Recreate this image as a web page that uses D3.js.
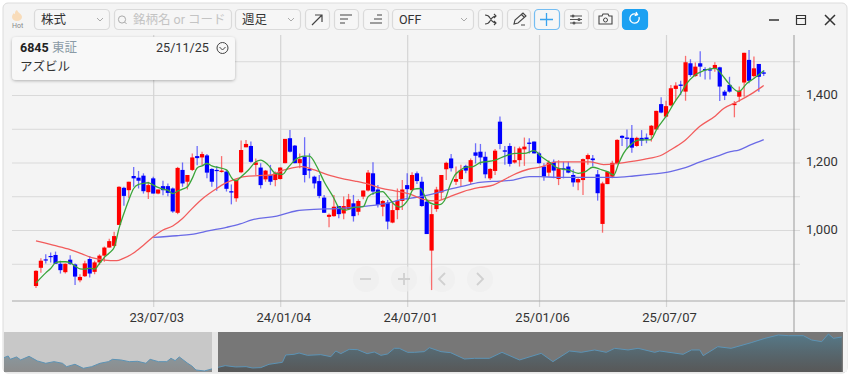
<!DOCTYPE html>
<html>
<head>
<meta charset="utf-8">
<script src="https://cdn.jsdelivr.net/npm/d3@7"></script>
<style>
  html, body { margin: 0; padding: 0; background: #fff; overflow: hidden; }
  svg { display: block; }
  text { font-family: Roboto, "Noto Sans CJK JP", sans-serif; }
</style>
</head>
<body>
<script>
// weekly candles
const opens = [
  834,888,913,923,926,900,875,912,898,851, 863,914,876,904,924,948,953,1015,1125,1118,
  1160,1155,1161,1112,1153,1108,1130,1130,1123,1051, 1178,1143,1178,1219,1215,1221,1181,1178,1172,1173,
  1115,1094,1171,1245,1249,1193,1185,1150,1163,1148, 1151,1198,1272,1250,1198,1217,1181,1158,1145,1096,
  1039,1041,1071,1049,1061,1079,1054,1099,1117,1168, 1120,1069,1081,1022,1059,1086,1133,1118,1168,1143,
  1084,939,1062,1111,1180,1212,1143,1151,1190,1143, 1230,1232,1217,1153,1175,1321,1236,1249,1200,1207,
  1239,1259,1262,1227,1188,1170,1202,1151,1183,1188, 1163,1141,1148,1210,1212,1165,1018,1136,1158,1197,
  1279,1274,1273,1249,1273,1274,1281,1298,1373,1336, 1369,1418,1431,1410,1494,1456,1494,1477,1476,1479,
  1482,1410,1430,1370,1395,1437,1504,1456,1492,1467]
const highs = [
  881,916,928,933,936,909,901,925,901,869, 909,923,909,928,951,974,995,1130,1128,1143,
  1187,1175,1168,1143,1158,1120,1146,1138,1126,1187, 1200,1163,1227,1249,1232,1225,1183,1190,1219,1178,
  1135,1150,1265,1267,1262,1212,1198,1178,1193,1173, 1186,1270,1296,1252,1227,1275,1227,1161,1163,1104,
  1049,1104,1071,1099,1107,1104,1091,1117,1178,1201, 1133,1089,1089,1086,1123,1148,1168,1171,1173,1158,
  1089,1074,1128,1163,1202,1225,1188,1193,1193,1212, 1257,1255,1232,1183,1240,1336,1249,1257,1247,1247,
  1274,1272,1262,1232,1198,1207,1209,1207,1202,1202, 1180,1153,1212,1227,1222,1178,1143,1173,1205,1269,
  1281,1298,1311,1276,1296,1286,1311,1353,1393,1383, 1430,1438,1442,1516,1506,1496,1530,1482,1482,1497,
  1484,1415,1454,1382,1425,1525,1533,1514,1492,1474]
const lows = [
  828,873,901,904,900,871,871,896,837,845, 861,859,869,896,906,948,950,1015,1072,1095,
  1128,1123,1108,1092,1108,1106,1103,1100,1051,1047, 1128,1120,1175,1192,1192,1153,1128,1116,1170,1114,
  1076,1084,1168,1245,1199,1163,1123,1143,1133,1130, 1150,1198,1230,1198,1183,1141,1153,1123,1094,1051,
  1008,1039,1035,1032,1059,1025,1044,1091,1114,1104, 1067,1041,1002,1020,1032,1059,1089,1118,1136,1069,
  988,822,1054,1089,1148,1173,1133,1130,1168,1136, 1197,1193,1153,1148,1163,1239,1193,1188,1197,1188,
  1190,1227,1227,1196,1146,1158,1153,1133,1153,1168, 1128,1118,1104,1193,1188,1087,992,1136,1153,1195,
  1249,1242,1229,1247,1249,1257,1262,1296,1346,1334, 1367,1385,1400,1383,1454,1454,1454,1446,1446,1469,
  1382,1385,1407,1334,1380,1395,1435,1452,1410,1456]
const closes = [
  879,909,910,921,900,881,900,900,862,861, 901,871,904,924,948,967,982,1128,1101,1143,
  1153,1146,1115,1133,1108,1120,1118,1110,1055,1184, 1138,1163,1215,1213,1225,1170,1143,1176,1176,1122,
  1111,1148,1237,1255,1202,1200,1133,1176,1143,1168, 1185,1270,1232,1198,1210,1163,1176,1138,1101,1051,
  1045,1069,1047,1071,1091,1041,1086,1117,1170,1114, 1074,1086,1025,1059,1087,1120,1121,1163,1145,1071,
  988,1047,1120,1163,1199,1183,1151,1178,1176,1207, 1220,1215,1165,1181,1235,1255,1232,1196,1207,1242,
  1247,1255,1227,1198,1158,1200,1176,1183,1180,1170, 1141,1151,1210,1222,1207,1109,1138,1173,1199,1267,
  1273,1270,1244,1273,1265,1269,1309,1353,1348,1367, 1420,1428,1427,1497,1459,1484,1484,1474,1474,1489,
  1425,1398,1410,1375,1413,1525,1442,1479,1454,1463]

// moving averages as [week, price]
const maShort = [[0,843],[2,873],[3,886],[4,903],[5,906],[6,906],[7,903],[8,893],[9,885],[10,884],[11,887],[12,884],[13,901],[14,919],[15,932],[16,948],[17,1005],[18,1049],[19,1089],[20,1123],[21,1135],[22,1138],[23,1140],[24,1133],[25,1126],[26,1121],[27,1118],[28,1108],[29,1115],[30,1121],[31,1128],[32,1153],[33,1184],[34,1190],[35,1197],[36,1190],[37,1186],[39,1178],[40.3,1150],[41,1146],[42,1158],[43.5,1178],[45,1202],[46,1207],[47.5,1193],[49,1168],[50.5,1165],[51.5,1183],[53,1207],[55,1219],[56,1219],[57.5,1188],[59,1143],[61,1094],[62,1067],[63.5,1059],[65,1067],[67,1069],[68,1099],[69.5,1111],[71,1114],[72,1099],[73.5,1074],[74.5,1068],[76.2,1090],[77.3,1121],[78.7,1123],[80,1089],[81.5,1076],[82.6,1075],[83.7,1089],[84.8,1133],[85.8,1163],[86.8,1176],[88,1186],[89.5,1188],[91,1200],[92,1202],[94,1207],[96,1219],[98,1227],[100,1227],[102,1235],[103.5,1217],[105,1202],[106.5,1186],[108,1180],[109,1178],[111,1168],[112.5,1173],[114,1186],[115.5,1180],[117,1173],[118.3,1163],[119.3,1197],[120.3,1227],[121.7,1252],[123.7,1267],[125.8,1267],[127.2,1301],[129.2,1341],[130.6,1375],[132,1405],[133.3,1435],[134.7,1456],[136.7,1472],[139.1,1479],[140.5,1459],[141.8,1435],[143.9,1410],[145.6,1435],[147,1449],[149,1472]]
const maMid = [[0,968],[3.5,955],[7,942],[9.3,930],[11.4,918],[14,911],[16.5,909],[17.9,916],[19.9,931],[22,955],[24,980],[26,1000],[28,1012],[30,1034],[32,1064],[34.2,1094],[37,1123],[38.7,1138],[40.7,1150],[42.7,1158],[45.5,1161],[48.2,1163],[50.3,1176],[52.3,1183],[54.4,1188],[57,1178],[59.8,1163],[62.5,1153],[65.3,1145],[68,1136],[70.8,1123],[73.5,1116],[76.6,1106],[79.3,1091],[82,1086],[84.4,1097],[87.5,1114],[90.9,1126],[93.6,1133],[95.7,1148],[98.4,1168],[100.8,1180],[103.2,1186],[106.6,1202],[110.7,1202],[113.4,1202],[116.2,1194],[119,1197],[122.4,1204],[125.5,1212],[127.8,1220],[129.9,1237],[132.6,1262],[136,1308],[139.1,1338],[140.8,1360],[143.6,1380],[146.3,1402],[149,1428]]
const maLong = [[24,978],[28.8,983],[31.8,987],[35.5,998],[39,1008],[41.8,1018],[44.2,1030],[49.3,1041],[53.4,1057],[56.9,1061],[62.3,1064],[67.7,1071],[71.8,1079],[74.5,1089],[77.9,1097],[81.3,1107],[84,1118],[87.5,1130],[90.9,1141],[95,1145],[97.7,1148],[101,1158],[103.2,1158],[106.6,1156],[110,1156],[115.5,1156],[118.3,1156],[122.4,1160],[126.5,1166],[129.9,1173],[132.6,1183],[136,1202],[139.5,1219],[142.2,1232],[143.9,1237],[146.3,1252],[149,1268]]

// navigator history, weeks counted from the first candle shown
const navWeeks = [-51,-50,-49.5,-48,-47,-45,-43,-41,-39,-37,-36,-34,-32,-30,-28,-26,-25,-23,-21,-19,-17,-16,-14,-12,-11,-10,-9,-7,-6,-5,-3,0,2,4.5,7,8.5,10.5,12.5,15.7,16.5,18.5,19.7,21.7,24.9,27.3,28.5,29.7,31.7,33.7,36,37.7,39.3,40.9,42.5,43.7,45.7,47.3,49.7,50.9,53.7,56,59.3,61.7,65.3,68.3,72.5,77.7,80.5,84.5,87.3,90.5,93.3,95.3,98.5,100.9,104.9,106.1,111.7,113.7,115.7,116.5,120,123.2,128,131.3,134.5,136.9,140.5,142.5,144.9,146.5,147.7,149.7]
const navValues = [1041,1075,1006,1055,993,1068,972,924,958,924,854,903,820,854,924,958,1006,993,958,965,924,1006,958,958,1027,979,1055,924,868,785,765,834,875,848,854,827,834,903,944,1096,1110,1137,1089,1103,1061,1179,1124,1213,1206,1124,1158,1089,1117,1234,1234,1151,1151,1165,1248,1165,1144,1013,1027,1027,1151,993,1130,958,1179,1151,1200,1151,1234,1200,1234,1151,1179,1110,1200,1200,1082,1268,1234,1351,1441,1510,1496,1496,1406,1372,1531,1441,1469]

const gridPrices = [900,1000,1100,1200,1300,1400,1500]
const labelPrices = [1000,1200,1400]
const tickWeeks = [24,50,76,103,129]
const tickLabels = ['23/07/03','24/01/04','24/07/01','25/01/06','25/07/07']

const width = 850, height = 374
const RED = '#ff0000', BLUE = '#0000ff'

const candles = opens.map((o, i) => ({i, o, h: highs[i], l: lows[i], c: closes[i]}))

const svg = d3.select('body').append('svg').attr('width', width).attr('height', height)

const defs = svg.append('defs')
const grad = defs.append('linearGradient').attr('id', 'navFill')
  .attr('gradientUnits', 'userSpaceOnUse').attr('x1', 0).attr('x2', 0).attr('y1', 332).attr('y2', 372)
grad.append('stop').attr('offset', 0).attr('stop-color', 'rgb(40,130,170)').attr('stop-opacity', 0.42)
grad.append('stop').attr('offset', 1).attr('stop-color', 'rgb(30,30,30)').attr('stop-opacity', 0.35)

// panel
svg.append('rect').attr('x', 3).attr('y', 3).attr('width', 844).attr('height', 370).attr('rx', 5)
  .attr('fill', '#f4f4f4').attr('stroke', '#dcdcdc')

const x = d3.scaleLinear().domain([0, 149]).range([36, 763.7])
const y = d3.scaleLinear().domain([1000, 1400]).range([230, 95])

// grid
const hGrid = svg.append('g').attr('transform', 'translate(12,0)')
  .call(d3.axisRight(y).tickValues(gridPrices).tickSize(788).tickFormat(''))
hGrid.select('.domain').remove()
hGrid.selectAll('line').attr('stroke', '#d9d9d9').attr('stroke-width', 1.2)

const vGrid = svg.append('g').attr('transform', 'translate(0,307)')
  .call(d3.axisTop(x).tickValues(tickWeeks).tickSize(272).tickFormat(''))
vGrid.select('.domain').remove()
vGrid.selectAll('line').attr('stroke', '#d4d4d4').attr('stroke-width', 1.2)

// axis lines
svg.append('line').attr('x1', 12).attr('x2', 845).attr('y1', 301).attr('y2', 301).attr('stroke', '#a8a8a8')
svg.append('line').attr('x1', 794).attr('x2', 794).attr('y1', 35).attr('y2', 332).attr('stroke', '#9a9a9a')

// axis labels
const yAxis = svg.append('g').attr('transform', 'translate(803,-1)')
  .call(d3.axisRight(y).tickValues(labelPrices).tickSize(0).tickFormat(d3.format(',')))
yAxis.select('.domain').remove()
yAxis.selectAll('text').attr('font-size', 13).attr('fill', '#333').attr('font-family', 'Roboto')

const xAxis = svg.append('g').attr('transform', 'translate(0,310)')
  .call(d3.axisBottom(x).tickValues(tickWeeks).tickSize(0).tickFormat((d, i) => tickLabels[i]))
xAxis.select('.domain').remove()
xAxis.selectAll('text').attr('font-size', 13).attr('fill', '#333').attr('font-family', 'Roboto').attr('dx', 3)

// zoom / pan buttons sit under the candles
const panButtons = [366, 404, 442, 480]
svg.append('g').selectAll('circle').data(panButtons).join('circle')
  .attr('cx', d => d).attr('cy', 279).attr('r', 13).attr('fill', '#eeeeee').attr('fill-opacity', 0.7)
const glyph = svg.append('g').attr('fill', 'none').attr('stroke', '#d0d0d0').attr('stroke-width', 1.8)
glyph.append('path').attr('d', 'M360,279h11')
glyph.append('path').attr('d', 'M398,279h12M404,273v12')
glyph.append('path').attr('d', 'M445,273l-6,6l6,6')
glyph.append('path').attr('d', 'M477,273l6,6l-6,6')

// candles
const wicks = svg.append('g').selectAll('line').data(candles).join('line')
  .attr('x1', d => x(d.i)).attr('x2', d => x(d.i))
  .attr('y1', d => y(d.h)).attr('y2', d => y(d.l))
  .attr('stroke', d => d.c >= d.o ? RED : BLUE)
  .attr('stroke-width', 1.3)
  .attr('stroke-opacity', 0.55)

const bodies = svg.append('g').selectAll('rect').data(candles).join('rect')
  .attr('x', d => x(d.i) - 2.1).attr('width', 4.2)
  .attr('y', d => y(Math.max(d.o, d.c)))
  .attr('height', d => Math.max(1.2, Math.abs(y(d.o) - y(d.c))))
  .attr('fill', d => d.c >= d.o ? RED : BLUE)

// moving averages
const maLine = d3.line().x(d => x(d[0])).y(d => y(d[1])).curve(d3.curveMonotoneX)
const maDraw = (data, color) => svg.append('path').attr('d', maLine(data))
  .attr('fill', 'none').attr('stroke', color).attr('stroke-width', 1.3)
maDraw(maLong, '#6a6ae6')
maDraw(maMid, '#f25c5c')
maDraw(maShort, '#3aa53a')

// navigator
const navX = d3.scaleLinear().domain([-51, 150]).range([4, 843])
const navY = d3.scaleLinear().domain([758, 1572]).range([371.3, 332])
svg.append('rect').attr('x', 4).attr('y', 332).attr('width', 208).attr('height', 40).attr('fill', '#c8c8c8')
svg.append('rect').attr('x', 218).attr('y', 332).attr('width', 625).attr('height', 40).attr('fill', '#777')
const navData = navWeeks.map((w, i) => [w, navValues[i]])
svg.append('path')
  .attr('d', d3.area().x(d => navX(d[0])).y0(372).y1(d => navY(d[1]))(navData))
  .attr('fill', 'url(#navFill)')
svg.append('path')
  .attr('d', d3.line().x(d => navX(d[0])).y(d => navY(d[1]))(navData))
  .attr('fill', 'none').attr('stroke', '#5c93b5').attr('stroke-width', 1)
svg.append('rect').attr('x', 212).attr('y', 332).attr('width', 6).attr('height', 40).attr('fill', '#e6e6e6')
svg.append('rect').attr('x', 843).attr('y', 332).attr('width', 4).attr('height', 40).attr('fill', '#f4f4f4')

// toolbar
const toolbar = svg.append('g')
const box = (x0, x1, stroke = '#dadada', fill = '#f6f6f6') => toolbar.append('rect')
  .attr('x', x0 + .5).attr('y', 9.5).attr('width', x1 - x0).attr('height', 20).attr('rx', 4)
  .attr('fill', fill).attr('stroke', stroke).attr('stroke-width', 1.2)
const label = (t, tx, ty, size, color = '#333', weight = 400) => toolbar.append('text')
  .attr('x', tx).attr('y', ty).attr('font-size', size).attr('fill', color).attr('font-weight', weight).text(t)
const icon = (d, color = '#444', w = 1.2) => toolbar.append('path').attr('d', d)
  .attr('fill', 'none').attr('stroke', color).attr('stroke-width', w)
const chevron = cx => icon(`M${cx - 3},18l3,3l3,-3`, '#aaa', 1)

// hot icon
toolbar.append('path').attr('d', 'M17,10c1,3 5,4 5,7c0,2 -2,4 -5,4c-3,0 -5,-2 -5,-4c0,-2 1,-3 2,-4c0,1 1,1 1,1c0,-2 0,-3 2,-4z')
  .attr('fill', '#f8dcba')
label('Hot', 12, 28, 7, '#888')

box(34, 109); label('株式', 41, 24, 12.5); chevron(100)
box(114, 231)
toolbar.append('circle').attr('cx', 122).attr('cy', 19.5).attr('r', 3.6).attr('fill', 'none').attr('stroke', '#aaa')
icon('M124.6,22l2,2', '#aaa', 1)
label('銘柄名 or コード', 133, 24, 12.5, '#c4c4c4')
box(235, 300); label('週足', 242, 24, 12.5); chevron(291)

box(305, 329); icon('M312,25l10,-10M315,15h7v7')
box(334, 358); icon('M340,15h12M340,19h8M340,23h5')
box(363, 388); icon('M370,23h12M374,19h8M377,15h5')
box(392, 473); label('OFF', 399, 24, 12.5, '#333'); chevron(464)

box(478, 502); icon('M485,15c3,0 4,1 5,3l2,3c1,1 2,2 4,2M485,24c3,0 4,-1 5,-3l2,-3c1,-1 2,-2 4,-2M494,14l2,2l-2,2M494,21l2,2l-2,2', '#444', 1.1)
box(507, 530); icon('M514,24l1,-4l8,-7l3,3l-8,7zM521,14l3,3M521,25h4', '#444', 1.1)
box(534, 559, '#74bdf2'); icon('M546.5,13v13M540,19.5h13', '#39a3ee', 1.3)
box(564, 588); icon('M570,16h12M570,19.5h12M570,23h12', '#555', 1.1)
toolbar.append('circle').attr('cx', 573).attr('cy', 16).attr('r', 1.5).attr('fill', '#555')
toolbar.append('circle').attr('cx', 579).attr('cy', 19.5).attr('r', 1.5).attr('fill', '#555')
toolbar.append('circle').attr('cx', 574).attr('cy', 23).attr('r', 1.5).attr('fill', '#555')
box(593, 618); icon('M599,16h3l1,-2h5l1,2h3v8h-13z', '#444', 1.1)
toolbar.append('circle').attr('cx', 605.5).attr('cy', 20).attr('r', 2).attr('fill', 'none').attr('stroke', '#444')
box(622, 647, '#1ca1f2', '#1ca1f2')
icon('M639,17a4.7,4.7 0 1 1 -2,-2.5M636,12l1.5,2.7l-2.8,1', '#fff', 1.3)

// window buttons
icon('M769,20h10', '#333', 1.5)
icon('M796.5,15.5h9v9h-9zM796.5,18.5h9', '#333', 1.2)
icon('M825,15l10,10M835,15l-10,10', '#333', 1.5)

// info card
const card = svg.append('g')
defs.append('filter').attr('id', 'cardShadow').attr('x', '-5%').attr('y', '-20%').attr('width', '110%').attr('height', '150%')
  .append('feDropShadow').attr('dx', 0).attr('dy', 1).attr('stdDeviation', 1.5).attr('flood-color', '#000').attr('flood-opacity', 0.28)
card.append('rect').attr('x', 12).attr('y', 37).attr('width', 223).attr('height', 43).attr('rx', 4)
  .attr('fill', '#f8f8f8').attr('filter', 'url(#cardShadow)')
const cardText = (t, tx, ty, color, weight = 400) => card.append('text')
  .attr('x', tx).attr('y', ty).attr('font-size', 12.5).attr('fill', color).attr('font-weight', weight).text(t)
cardText('6845', 20, 52, '#222', 700)
cardText('東証', 52, 52, '#8b9ba6')
cardText('25/11/25', 156, 52, '#333').attr('font-size', 12.6)
card.append('circle').attr('cx', 222.5).attr('cy', 48).attr('r', 5.5).attr('fill', 'none').attr('stroke', '#444')
card.append('path').attr('d', 'M219.5,47l3,3l3,-3').attr('fill', 'none').attr('stroke', '#444')
cardText('アズビル', 20, 71, '#333')
</script>
</body>
</html>
